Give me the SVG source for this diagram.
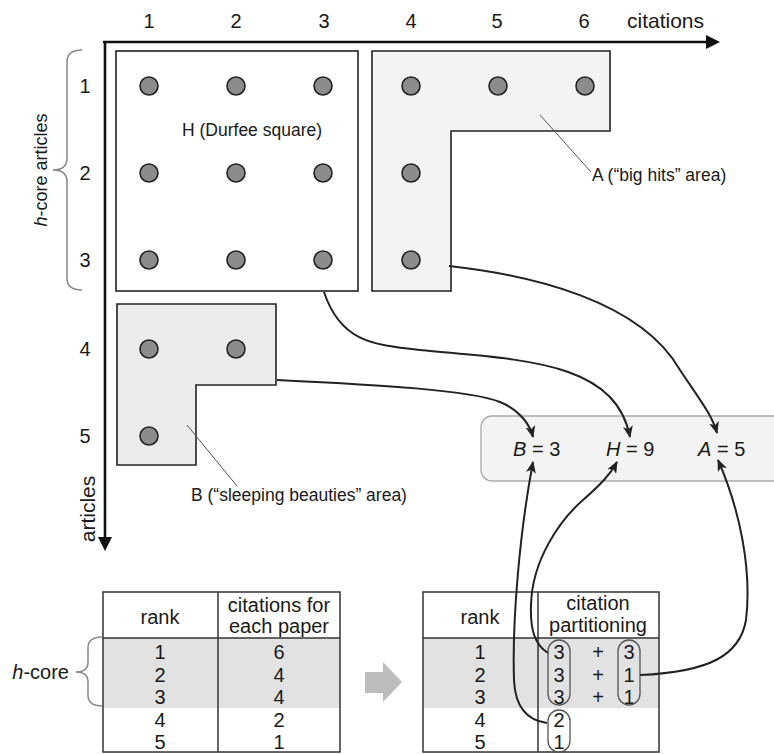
<svg xmlns="http://www.w3.org/2000/svg" width="774" height="754" viewBox="0 0 774 754">
<defs>
<style>
text{font-family:"Liberation Sans",Arial,sans-serif;fill:#1a1a1a}
.ax{font-size:20px}
.lbl{font-size:17.5px}
.tb{font-size:20px}
.res{font-size:20px}
.dot{fill:#8c8c8c;stroke:#222;stroke-width:1.6}
.reg{stroke:#222;stroke-width:1.6}
.con{fill:none;stroke:#222;stroke-width:2}
.lead{fill:none;stroke:#555;stroke-width:1}
.brace{fill:none;stroke:#888;stroke-width:1.5}
.tline{fill:none;stroke:#333;stroke-width:1.5}
.oval{fill:none;stroke:#555;stroke-width:1.3}
</style>
<marker id="ah" viewBox="0 0 12 10" refX="11" refY="5" markerWidth="12" markerHeight="10" orient="auto" markerUnits="userSpaceOnUse">
<path d="M0,0 L12,5 L0,10 L3,5 z" fill="#222"/>
</marker>
</defs>
<rect width="774" height="754" fill="#fff"/>

<g id="axes">
<line x1="103" y1="42" x2="710" y2="42" stroke="#111" stroke-width="2.6"/>
<polygon points="706,35 720,42 706,49" fill="#111"/>
<line x1="105" y1="41" x2="105" y2="540" stroke="#111" stroke-width="2.6"/>
<polygon points="98,537 105,551 112,537" fill="#111"/>
<g class="ax" text-anchor="middle">
<text x="149" y="28">1</text><text x="236" y="28">2</text><text x="324" y="28">3</text>
<text x="411" y="28">4</text><text x="497" y="28">5</text><text x="584" y="28">6</text>
<text x="85" y="93">1</text><text x="85" y="180">2</text><text x="85" y="267">3</text>
<text x="85" y="356">4</text><text x="85" y="443">5</text>
</g>
<text x="627" y="28" style="font-size:21px">citations</text>
<text x="95" y="509" style="font-size:21px" text-anchor="middle" transform="rotate(-90 95 509)">articles</text>
</g>

<g id="hcore-brace-top">
<path class="brace" d="M82 50 Q67 50 67 62 L67 158 Q67 170 53 170 Q67 170 67 182 L67 278 Q67 290 82 290"/>
<text x="47" y="170" style="font-size:18px" text-anchor="middle" transform="rotate(-90 47 170)"><tspan font-style="italic">h</tspan>-core articles</text>
</g>

<g id="H">
<rect class="reg" x="116" y="51" width="242" height="240" fill="#fff"/>
<circle class="dot" cx="149" cy="86" r="9"/><circle class="dot" cx="236" cy="86" r="9"/><circle class="dot" cx="323" cy="86" r="9"/>
<circle class="dot" cx="149" cy="173" r="9"/><circle class="dot" cx="236" cy="173" r="9"/><circle class="dot" cx="323" cy="173" r="9"/>
<circle class="dot" cx="149" cy="260" r="9"/><circle class="dot" cx="236" cy="260" r="9"/><circle class="dot" cx="323" cy="260" r="9"/>
<text class="lbl" x="182" y="136">H (Durfee square)</text>
</g>

<g id="A">
<path class="reg" d="M372 51 L610 51 L610 131 L451 131 L451 291 L372 291 Z" fill="#f3f3f3"/>
<circle class="dot" cx="411" cy="86" r="9"/><circle class="dot" cx="498" cy="86" r="9"/><circle class="dot" cx="585" cy="86" r="9"/>
<circle class="dot" cx="411" cy="173" r="9"/><circle class="dot" cx="411" cy="260" r="9"/>
<line class="lead" x1="540" y1="115" x2="591" y2="172"/>
<text class="lbl" x="592" y="181">A (“big hits” area)</text>
</g>

<g id="B">
<path class="reg" d="M117 304 L276 304 L276 385 L196 385 L196 465 L117 465 Z" fill="#ececec"/>
<circle class="dot" cx="149" cy="349" r="9"/><circle class="dot" cx="236" cy="349" r="9"/><circle class="dot" cx="149" cy="436" r="9"/>
<line class="lead" x1="187" y1="425" x2="237" y2="486"/>
<text class="lbl" x="191" y="501">B (“sleeping beauties” area)</text>
</g>

<g id="results">
<rect x="481" y="416" width="310" height="65" rx="11" fill="#f3f3f3" stroke="#aaa" stroke-width="1.3"/>
<text class="res" x="513" y="456"><tspan font-style="italic">B</tspan> = 3</text>
<text class="res" x="606" y="456"><tspan font-style="italic">H</tspan> = 9</text>
<text class="res" x="698" y="456"><tspan font-style="italic">A</tspan> = 5</text>
</g>

<g id="table-left">
<rect x="103" y="638" width="237" height="70" fill="#e2e2e2"/>
<rect class="tline" x="103" y="592" width="237" height="160"/>
<line class="tline" x1="218" y1="592" x2="218" y2="752"/>
<line class="tline" x1="103" y1="638" x2="340" y2="638"/>
<g class="tb" text-anchor="middle">
<text x="160" y="624">rank</text>
<text x="279" y="612">citations for</text>
<text x="279" y="633">each paper</text>
<text x="160" y="659">1</text><text x="160" y="682">2</text><text x="160" y="704">3</text><text x="160" y="727">4</text><text x="160" y="749">5</text>
<text x="279" y="659">6</text><text x="279" y="682">4</text><text x="279" y="704">4</text><text x="279" y="727">2</text><text x="279" y="749">1</text>
</g>
</g>

<g id="hcore-brace-table">
<path class="brace" d="M102 637 Q88 637 88 648 L88 662 Q88 672 76 672 Q88 672 88 682 L88 695 Q88 706 102 706"/>
<text class="tb" x="69" y="679" text-anchor="end"><tspan font-style="italic">h</tspan>-core</text>
</g>

<g id="big-arrow">
<polygon points="365,672 383,672 383,662 402,682 383,702 383,693 365,693" fill="#bdbdbd"/>
</g>

<g id="table-right">
<rect x="423" y="638" width="236" height="70" fill="#e2e2e2"/>
<rect class="tline" x="423" y="592" width="236" height="160"/>
<line class="tline" x1="538" y1="592" x2="538" y2="752"/>
<line class="tline" x1="423" y1="638" x2="659" y2="638"/>
<g class="tb" text-anchor="middle">
<text x="480" y="624">rank</text>
<text x="598" y="610">citation</text>
<text x="598" y="632">partitioning</text>
<text x="480" y="659">1</text><text x="480" y="682">2</text><text x="480" y="704">3</text><text x="480" y="727">4</text><text x="480" y="749">5</text>
<text x="559" y="659">3</text><text x="559" y="682">3</text><text x="559" y="704">3</text><text x="559" y="727">2</text><text x="559" y="749">1</text>
<text x="598" y="659">+</text><text x="598" y="682">+</text><text x="598" y="704">+</text>
<text x="629" y="659">3</text><text x="629" y="682">1</text><text x="629" y="704">1</text>
</g>
<rect class="oval" x="548" y="640" width="22" height="65" rx="11"/>
<rect class="oval" x="618" y="640" width="22" height="65" rx="11"/>
<rect class="oval" x="548" y="710" width="22" height="42" rx="11"/>
</g>

<g id="connectors">
<path class="con" marker-end="url(#ah)" d="M324 292 C340 340 370 345 420 350 C520 360 615 360 630 437"/>
<path class="con" marker-end="url(#ah)" d="M277 380 C380 385 470 390 500 402 C520 410 530 425 533 437"/>
<path class="con" marker-end="url(#ah)" d="M449 266 C530 275 640 300 680 370 C700 400 712 415 717 433"/>
<path class="con" marker-end="url(#ah)" d="M547 723 C525 720 515 705 514 680 C512 620 520 530 533 462"/>
<path class="con" marker-end="url(#ah)" d="M548 653 C535 645 530 630 531 605 C532 560 560 520 583 500 C600 485 610 475 617 462"/>
<path class="con" marker-end="url(#ah)" d="M640 675 C710 672 740 655 746 620 C752 570 740 510 718 460"/>
</g>
</svg>
